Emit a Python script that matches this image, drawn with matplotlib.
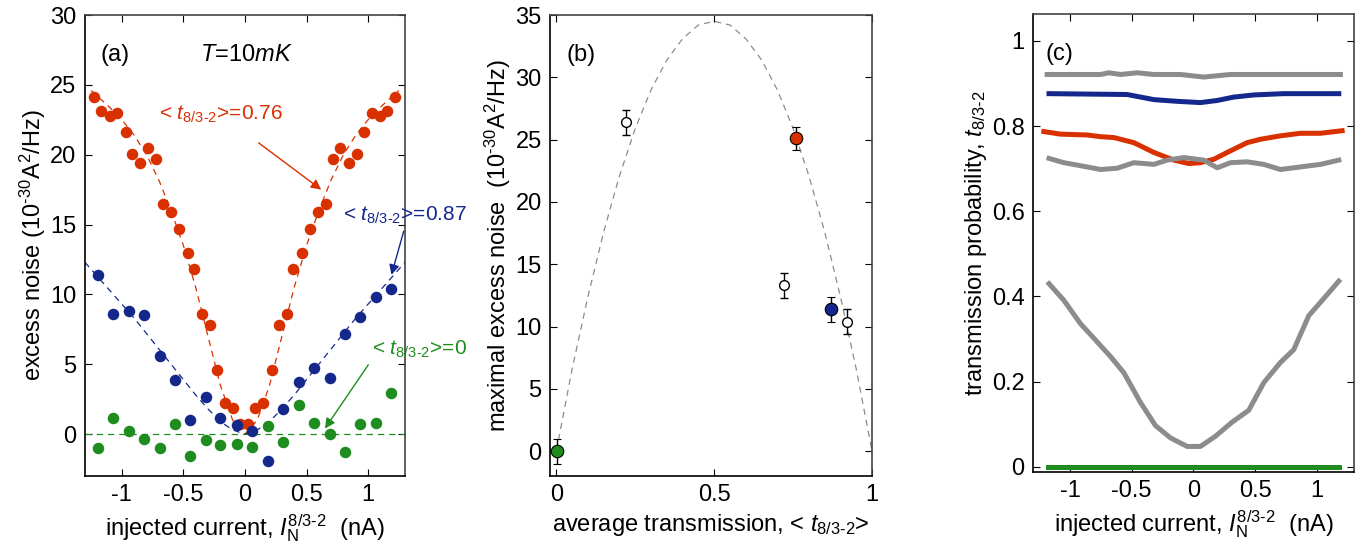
import matplotlib
matplotlib.use('Agg')
import matplotlib.pyplot as plt

plt.rcParams['font.family'] = ['Liberation Sans', 'DejaVu Sans']
plt.rcParams['mathtext.fontset'] = 'custom'
plt.rcParams['mathtext.rm'] = 'Liberation Sans'
plt.rcParams['mathtext.it'] = 'Liberation Sans:italic'
plt.rcParams['axes.unicode_minus'] = False

RED = '#d93000'
BLUE = '#14288c'
GREEN = '#1e8c1e'
GRAY = '#8c8c8c'

# (a) excess noise vs injected current
red_x = [-1.228, -1.168, -1.10, -1.04, -0.97, -0.915, -0.85, -0.785, -0.72, -0.666,
         -0.598, -0.535, -0.462, -0.416, -0.353, -0.285, -0.231, -0.163, -0.095, -0.041,
         0.027, 0.081, 0.149, 0.217, 0.28, 0.34, 0.394, 0.462, 0.53, 0.597,
         0.66, 0.715, 0.774, 0.842, 0.91, 0.97, 1.032, 1.095, 1.155, 1.222]
red_y = [24.1, 23.1, 22.8, 23.0, 21.6, 20.05, 19.4, 20.5, 19.7, 16.5,
         15.9, 14.7, 12.95, 11.8, 8.6, 7.8, 4.6, 2.2, 1.9, 0.7,
         0.7, 1.9, 2.2, 4.6, 7.8, 8.6, 11.8, 12.95, 14.7, 15.9,
         16.5, 19.7, 20.5, 19.4, 20.05, 21.6, 23.0, 22.8, 23.1, 24.1]
red_fit_x = [-1.25, -1.2, -1.1, -1.0, -0.9, -0.8, -0.7, -0.6, -0.5, -0.4, -0.3, -0.2, -0.1, 0.0,
             0.1, 0.2, 0.3, 0.4, 0.5, 0.6, 0.7, 0.8, 0.9, 1.0, 1.1, 1.2, 1.25]
red_fit_y = [24.6, 24.2, 23.4, 22.5, 21.4, 20.0, 18.2, 16.0, 13.5, 10.5, 7.0, 3.5, 1.0, 0.0,
             1.0, 3.5, 7.0, 10.5, 13.5, 16.0, 18.2, 20.0, 21.4, 22.5, 23.4, 24.2, 24.6]

blue_x = [-1.195, -1.073, -0.943, -0.823, -0.69, -0.57, -0.443, -0.315, -0.204, -0.068,
          0.06, 0.19, 0.307, 0.44, 0.557, 0.693, 0.815, 0.932, 1.068, 1.187]
blue_y = [11.4, 8.6, 8.8, 8.5, 5.6, 3.9, 1.0, 2.65, 1.15, 0.65,
          0.2, -1.9, 1.8, 3.7, 4.75, 4.0, 7.15, 8.4, 9.8, 10.4]
blue_fit_x = [-1.3, -1.2, -1.1, -1.0, -0.9, -0.8, -0.7, -0.6, -0.5, -0.4, -0.3, -0.2, -0.1, 0.0,
              0.1, 0.2, 0.3, 0.4, 0.5, 0.6, 0.7, 0.8, 0.9, 1.0, 1.1, 1.2, 1.3]
blue_fit_y = [12.3, 11.3, 10.3, 9.3, 8.3, 7.2, 6.1, 5.0, 3.9, 2.8, 1.8, 0.9, 0.3, 0.0,
              0.3, 0.9, 1.8, 2.8, 3.9, 5.0, 6.1, 7.2, 8.3, 9.3, 10.3, 11.3, 12.3]

green_x = [-1.195, -1.073, -0.943, -0.823, -0.69, -0.57, -0.443, -0.315, -0.204, -0.068,
           0.06, 0.19, 0.307, 0.44, 0.557, 0.693, 0.815, 0.932, 1.068, 1.187]
green_y = [-1.0, 1.15, 0.2, -0.35, -1.0, 0.7, -1.55, -0.45, -0.75, -0.7,
           -0.9, 0.55, -0.55, 2.05, 0.8, 0.0, -1.3, 0.75, 0.8, 2.95]

# (b) maximal excess noise vs average transmission
open_t = [0.222, 0.72, 0.92]
open_s = [26.4, 13.3, 10.4]
open_err = [1.0, 1.0, 1.0]
filled_t = [0.002, 0.758, 0.869]
filled_s = [0.0, 25.1, 11.4]
filled_err = [1.0, 0.9, 1.0]
filled_colors = [GREEN, RED, BLUE]
theory_t = [0.0, 0.05, 0.1, 0.15, 0.2, 0.25, 0.3, 0.35, 0.4, 0.45, 0.5,
            0.55, 0.6, 0.65, 0.7, 0.75, 0.8, 0.85, 0.9, 0.95, 1.0]
theory_s = [0.0, 6.6, 12.4, 17.6, 22.1, 25.9, 29.0, 31.4, 33.1, 34.2, 34.5,
            34.2, 33.1, 31.4, 29.0, 25.9, 22.1, 17.6, 12.4, 6.6, 0.0]

# (c) transmission probability vs injected current
top_gray_x = [-1.185, -0.753, -0.686, -0.59, -0.456, -0.321, -0.105, 0.083, 0.3, 1.19]
top_gray_y = [0.921, 0.921, 0.925, 0.921, 0.925, 0.921, 0.921, 0.915, 0.921, 0.921]
blue_t_x = [-1.17, -0.537, -0.321, -0.132, 0.057, 0.192, 0.327, 0.49, 0.73, 1.177]
blue_t_y = [0.876, 0.874, 0.862, 0.858, 0.855, 0.86, 0.868, 0.873, 0.876, 0.876]
red_t_x = [-1.212, -1.077, -0.861, -0.753, -0.645, -0.483, -0.321, -0.159, -0.038,
           0.057, 0.165, 0.273, 0.435, 0.543, 0.704, 0.866, 1.028, 1.204]
red_t_y = [0.787, 0.781, 0.779, 0.775, 0.773, 0.761, 0.738, 0.720, 0.712,
           0.714, 0.722, 0.738, 0.761, 0.769, 0.777, 0.783, 0.783, 0.789]
mid_gray_x = [-1.17, -1.05, -0.861, -0.753, -0.618, -0.483, -0.321, -0.213, -0.078,
              0.083, 0.192, 0.30, 0.435, 0.57, 0.704, 0.866, 1.028, 1.177]
mid_gray_y = [0.724, 0.714, 0.704, 0.698, 0.701, 0.714, 0.710, 0.720, 0.726,
              0.720, 0.702, 0.714, 0.716, 0.710, 0.698, 0.704, 0.710, 0.720]
low_gray_x = [-1.17, -1.05, -0.915, -0.807, -0.672, -0.564, -0.429, -0.308, -0.186, -0.051,
              0.057, 0.178, 0.313, 0.448, 0.57, 0.704, 0.812, 0.934, 1.055, 1.177]
low_gray_y = [0.430, 0.391, 0.336, 0.302, 0.259, 0.221, 0.151, 0.097, 0.068, 0.048,
              0.048, 0.072, 0.105, 0.133, 0.198, 0.245, 0.275, 0.355, 0.395, 0.436]
green_t_x = [-1.18, 1.18]
green_t_y = [0.0, 0.0]

SUB = r'{\rm 8/3\text{-}2}'
UNITS = r'(10$^{\text{-}30}$A$^{\rm 2}$/Hz)'
xlabel_current = r'injected current, $I_{\rm N}^{' + SUB + r'}$  (nA)'
FS = 17


def style_axes(ax):
    ax.tick_params(direction='in', top=True, right=True, labelsize=FS, length=5, pad=6)
    for side in ['top', 'right']:
        ax.spines[side].set_color('#444444')
    for side in ax.spines:
        ax.spines[side].set_linewidth(1.2)


fig = plt.figure(figsize=(13.7, 5.57), dpi=100)

# panel (a)
ax1 = fig.add_axes([0.062, 0.1454, 0.2336, 0.8276])
ax1.plot(red_fit_x, red_fit_y, '--', color=RED, lw=0.9, dashes=(5, 4))
ax1.plot(blue_fit_x, blue_fit_y, '--', color=BLUE, lw=0.9, dashes=(5, 4))
ax1.axhline(0, color=GREEN, lw=0.9, ls='--', dashes=(5, 4))
ax1.plot(red_x, red_y, 'o', color=RED, ms=8.3, mec='none')
ax1.plot(blue_x, blue_y, 'o', color=BLUE, ms=8.3, mec='none')
ax1.plot(green_x, green_y, 'o', color=GREEN, ms=8.3, mec='none')
ax1.set_xlim(-1.3, 1.3)
ax1.set_ylim(-3, 30)
ax1.set_xticks([-1, -0.5, 0, 0.5, 1])
ax1.set_xticklabels(['-1', '-0.5', '0', '0.5', '1'])
ax1.set_yticks([0, 5, 10, 15, 20, 25, 30])
style_axes(ax1)
ax1.set_xlabel(xlabel_current, fontsize=FS, labelpad=4)
ax1.set_ylabel('excess noise ' + UNITS, fontsize=FS, labelpad=2)
ax1.text(0.05, 0.9, '(a)', transform=ax1.transAxes, fontsize=FS)
ax1.text(0.36, 0.9, r'$T$=10$mK$', transform=ax1.transAxes, fontsize=FS)
ax1.annotate(r'< $t_' + SUB + r'$>=0.76', xy=(0.62, 17.5), xytext=(-0.7, 22.5),
             color=RED, fontsize=15,
             arrowprops=dict(arrowstyle='-|>', color=RED, lw=1, shrinkA=18, shrinkB=0))
ax1.annotate(r'< $t_' + SUB + r'$>=0.87', xy=(1.19, 11.4), xytext=(0.8, 15.3),
             color=BLUE, fontsize=15, annotation_clip=False,
             arrowprops=dict(arrowstyle='-|>', color=BLUE, lw=1, shrinkA=2, shrinkB=0,
                             relpos=(0.5, 0.0)))
ax1.annotate(r'< $t_' + SUB + r'$>=0', xy=(0.65, 0.4), xytext=(1.03, 5.7),
             color=GREEN, fontsize=15, annotation_clip=False,
             arrowprops=dict(arrowstyle='-|>', color=GREEN, lw=1, shrinkA=2, shrinkB=0,
                             relpos=(0.0, 0.0)))

# panel (b)
ax2 = fig.add_axes([0.4015, 0.1454, 0.235, 0.8276])
ax2.plot(theory_t, theory_s, '--', color=GRAY, lw=0.9, dashes=(5, 4))
ax2.errorbar(open_t, open_s, yerr=open_err, fmt='o', mfc='white', mec='black',
             ecolor='black', ms=7, capsize=3, elinewidth=1, mew=1)
for t, s, e, c in zip(filled_t, filled_s, filled_err, filled_colors):
    ax2.errorbar([t], [s], yerr=[e], fmt='o', mfc=c, mec='black', ecolor='black',
                 ms=9, capsize=3, elinewidth=1, mew=0.8)
ax2.set_xlim(-0.02, 1.0)
ax2.set_ylim(-2, 35)
ax2.set_xticks([0, 0.5, 1])
ax2.set_xticklabels(['0', '0.5', '1'])
ax2.set_yticks([0, 5, 10, 15, 20, 25, 30, 35])
style_axes(ax2)
ax2.set_xlabel(r'average transmission, < $t_' + SUB + r'$>', fontsize=FS, labelpad=4)
ax2.set_ylabel('maximal excess noise  ' + UNITS, fontsize=FS, labelpad=2)
ax2.text(0.05, 0.9, '(b)', transform=ax2.transAxes, fontsize=FS)

# panel (c)
ax3 = fig.add_axes([0.754, 0.1526, 0.2343, 0.8223])
ax3.plot(red_t_x, red_t_y, color=RED, lw=3.6, zorder=2)
ax3.plot(blue_t_x, blue_t_y, color=BLUE, lw=3.6, zorder=2)
ax3.plot(green_t_x, green_t_y, color=GREEN, lw=3.6, zorder=2)
ax3.plot(top_gray_x, top_gray_y, color=GRAY, lw=3.6, zorder=3)
ax3.plot(mid_gray_x, mid_gray_y, color=GRAY, lw=3.6, zorder=3)
ax3.plot(low_gray_x, low_gray_y, color=GRAY, lw=3.6, zorder=3)
ax3.set_xlim(-1.3, 1.3)
ax3.set_ylim(-0.012, 1.063)
ax3.set_xticks([-1, -0.5, 0, 0.5, 1])
ax3.set_xticklabels(['-1', '-0.5', '0', '0.5', '1'])
ax3.set_yticks([0, 0.2, 0.4, 0.6, 0.8, 1])
ax3.set_yticklabels(['0', '0.2', '0.4', '0.6', '0.8', '1'])
style_axes(ax3)
ax3.set_xlabel(xlabel_current, fontsize=FS, labelpad=4)
ax3.set_ylabel(r'transmission probability, $t_' + SUB + r'$', fontsize=FS, labelpad=2)
ax3.text(0.04, 0.9, '(c)', transform=ax3.transAxes, fontsize=FS)

fig.savefig('out.png', dpi=100)
plt.close(fig)
